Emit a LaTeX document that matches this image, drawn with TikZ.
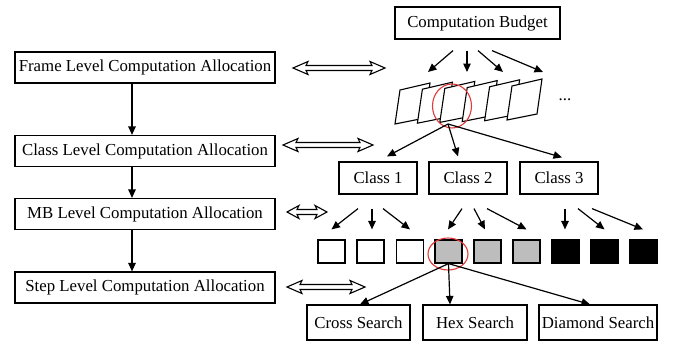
\documentclass[tikz,border=0pt]{standalone}
\usepackage{fontspec}
\setmainfont{Liberation Serif}
\usetikzlibrary{arrows.meta,shapes.geometric}
\definecolor{sqgray}{HTML}{BDBDBD}
\definecolor{circred}{HTML}{E03A3A}
\begin{document}
\begin{tikzpicture}[x=1pt,y=-1pt,
  txt/.style={font=\fontsize{16.8}{19}\selectfont},
  lbox/.style={draw,line width=1.2pt,minimum width=260pt,minimum height=31pt,inner sep=0pt,txt},
  cbox/.style={draw,line width=1.2pt,minimum width=78pt,minimum height=32pt,inner sep=0pt,txt},
  sbox/.style={draw,line width=1.2pt,minimum height=35pt,inner sep=0pt,txt},
  sq/.style={draw,line width=1.2pt,minimum width=27pt,minimum height=23pt,inner sep=0pt},
  arr/.style={-{Triangle[length=8.5pt,width=7.5pt]},line width=1.2pt},
  hollow/.style={draw=black,line width=1.1pt,fill=white},
  redring/.style={draw=circred,line width=1.1pt},
  framesheet/.style={draw,line width=1.1pt,fill=white}]
\useasboundingbox (0,0) rectangle (675,343);

% left column
\node[lbox] (fl) at (145,67.5) {Frame Level Computation Allocation};
\node[lbox] (cl) at (145,151) {Class Level Computation Allocation};
\node[lbox] (ml) at (145,214) {MB Level Computation Allocation};
\node[lbox] (sl) at (145,287.5) {Step Level Computation Allocation};
\draw[arr] ([xshift=-13pt]fl.south) -- ([xshift=-13pt]cl.north);
\draw[arr] ([xshift=-13pt]cl.south) -- ([xshift=-13pt]ml.north);
\draw[arr] ([xshift=-13pt]ml.south) -- ([xshift=-13pt]sl.north);

% hollow double arrows
\newcommand{\hollowarrow}[4]{% x1, x2, y, head length
  \draw[hollow,line join=miter] (#1,#3) -- ++(#4,-6.5) -- ++(-2,4) -- (#2-#4+2,#3-2.5) -- (#2-#4,#3-6.5) -- (#2,#3)
     -- (#2-#4,#3+6.5) -- (#2-#4+2,#3+2.5) -- (#1+#4-2,#3+2.5) -- (#1+#4,#3+6.5) -- cycle;}
\hollowarrow{293}{385}{68}{15}
\hollowarrow{283}{373}{145}{15}
\hollowarrow{287}{327}{212}{12}
\hollowarrow{287}{365}{287}{15}

% budget
\node[cbox,minimum width=165pt] (bud) at (477.5,23) {Computation Budget};

% frames
\foreach \i in {0,...,5}
  \draw[framesheet] ({395+22.4*\i},{124-0.8*\i}) -- ++(5,-34) -- ++(30,-7) -- ++(-5,35) -- cycle;
\node[txt] (dots) at (565,100) {...};
\node[redring,ellipse,minimum width=39pt,minimum height=44pt,inner sep=0pt] (fring) at (452,106) {};
\coordinate (fc) at (448,124);

\draw[arr] ([xshift=-24.5pt,yshift=-11pt]bud.south) -- (428,72);
\draw[arr] ([xshift=-10.5pt,yshift=-11pt]bud.south) -- (467,72);
\draw[arr] ([xshift=0.5pt,yshift=-11pt]bud.south) -- (503,72);
\draw[arr] ([xshift=14.5pt,yshift=-11pt]bud.south) -- (543,72);

% classes
\node[cbox] (c1) at (378,178) {Class 1};
\node[cbox] (c2) at (468,178) {Class 2};
\node[cbox] (c3) at (559,178) {Class 3};
\draw[arr] (fc) -- ([xshift=9pt,yshift=5pt]c1.north);
\draw[arr] (fc) -- ([xshift=-10pt,yshift=5pt]c2.north);
\draw[arr] (fc) -- ([xshift=3pt,yshift=4pt]c3.north);

% squares
\foreach \i/\x/\c in {1/331.5/white,2/370.5/white,3/410/white,4/448.5/sqgray,5/487.5/sqgray,6/526.5/sqgray,7/565.5/black,8/604.5/black,9/643.5/black}
  \node[sq,fill=\c] (s\i) at (\x,251.5) {};

\draw[arr] ([xshift=-20pt,yshift=-14pt]c1.south) -- ([yshift=10pt]s1.north);
\draw[arr] ([xshift=-6pt,yshift=-14pt]c1.south) -- ([yshift=10pt,xshift=1.5pt]s2.north);
\draw[arr] ([xshift=5pt,yshift=-14pt]c1.south) -- ([yshift=10pt]s3.north);
\draw[arr] ([xshift=-6pt,yshift=-14pt]c2.south) -- ([yshift=10pt,xshift=-0.5pt]s4.north);
\draw[arr] ([xshift=6pt,yshift=-14pt]c2.south) -- ([yshift=10pt,xshift=-2.5pt]s5.north);
\draw[arr] ([xshift=19pt,yshift=-14pt]c2.south) -- ([yshift=10pt]s6.north);
\draw[arr] ([xshift=6pt,yshift=-14pt]c3.south) -- ([yshift=10pt,xshift=-0.5pt]s7.north);
\draw[arr] ([xshift=19pt,yshift=-14pt]c3.south) -- ([yshift=10pt]s8.north);
\draw[arr] ([xshift=33pt,yshift=-14pt]c3.south) -- ([yshift=10pt,xshift=-0.5pt]s9.north);

\node[redring,ellipse,minimum width=40pt,minimum height=32pt,inner sep=0pt] (sring) at (448,254) {};

% searches
\node[sbox,minimum width=103pt] (cs) at (358.5,322.5) {Cross Search};
\node[sbox,minimum width=104pt] (hs) at (475,322.5) {Hex Search};
\node[sbox,minimum width=118pt] (ds) at (598,322.5) {Diamond Search};
\draw[arr] (s4.south) -- ([xshift=1.5pt]cs.north);
\draw[arr] (s4.south) -- ([xshift=-25pt]hs.north);
\draw[arr] (s4.south) -- ([xshift=-8pt]ds.north);
\end{tikzpicture}
\end{document}
